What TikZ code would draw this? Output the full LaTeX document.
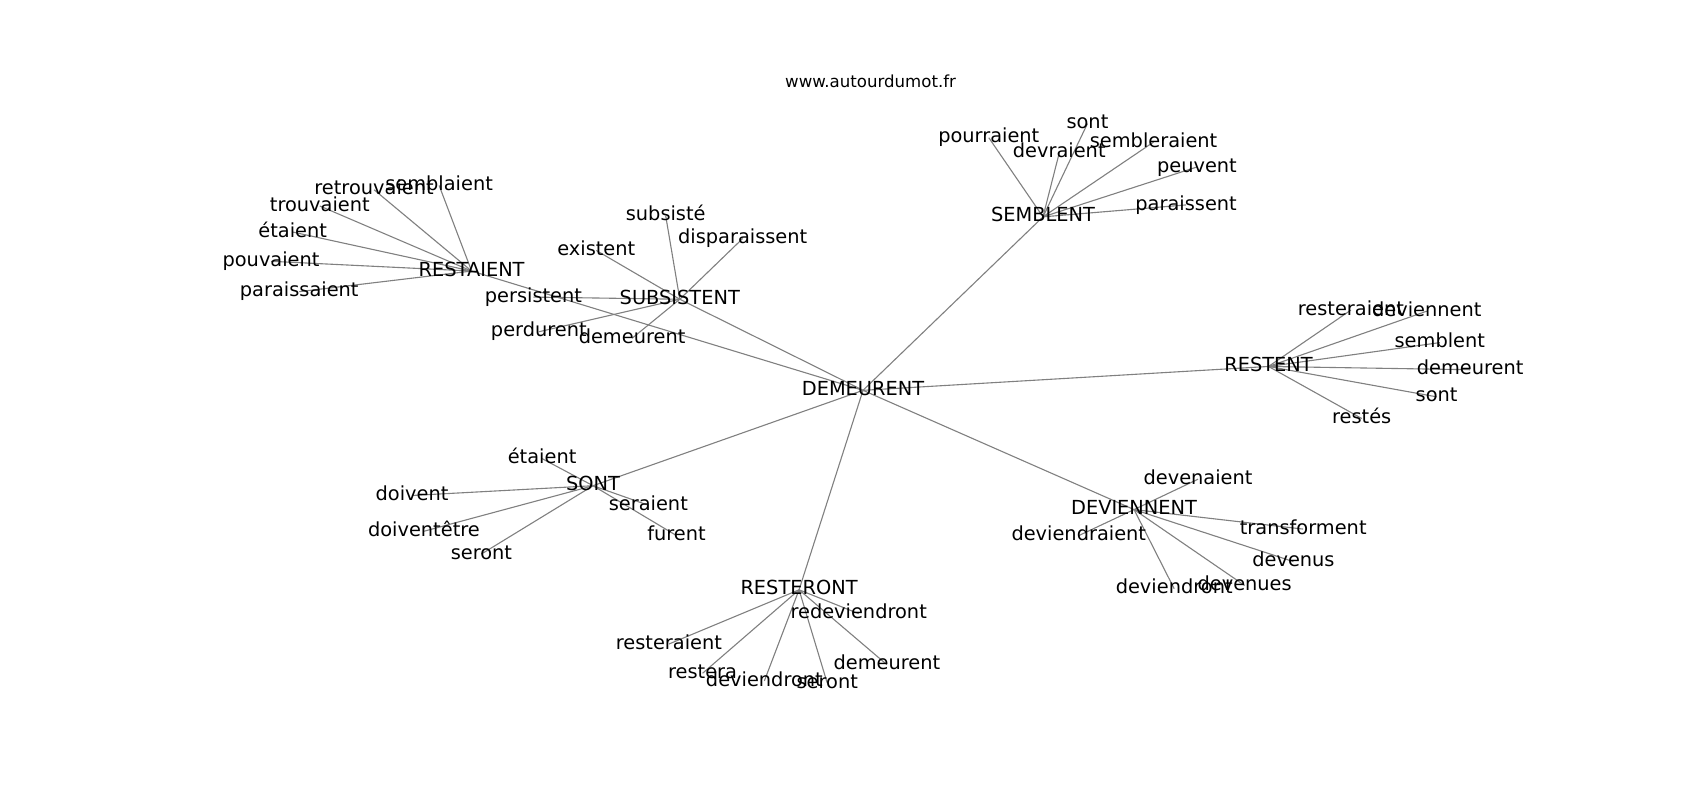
\documentclass[tikz,border=0pt]{standalone}
\usepackage{fontspec}
\setmainfont{DejaVu Sans}
\usetikzlibrary{backgrounds}
\tikzset{%
    word/.style={inner sep=0pt, text height=0.74em, text depth=0pt, font=\fontsize{14}{16}\selectfont},
    edge/.style={draw=black!50, line width=0.8pt}
}
\begin{document}
\begin{tikzpicture}[x=0.2754mm, y=-0.2754mm]
    \useasboundingbox (0,0) rectangle (1568,738);

    \node[inner sep=0pt, text height=0.74em, text depth=0pt, font=\fontsize{12}{14}\selectfont] (title) at (803,76) {www.autourdumot.fr};

    % centre
    \node[word] (dem) at (796,360) {DEMEURENT};

    % restaient
    \node[word] (rai) at (435,250) {RESTAIENT};
    \node[word] (rai1) at (405,171) {semblaient};
    \node[word] (rai2) at (345,175) {retrouvaient};
    \node[word] (rai3) at (295,190) {trouvaient};
    \node[word] (rai4) at (270,214) {étaient};
    \node[word] (rai5) at (250,241) {pouvaient};
    \node[word] (rai6) at (276,269) {paraissaient};

    % subsistent
    \node[word] (sub) at (627,276) {SUBSISTENT};
    \node[word] (sub1) at (614,199) {subsisté};
    \node[word] (sub2) at (685,220) {disparaissent};
    \node[word] (sub3) at (550,231) {existent};
    \node[word] (sub4) at (492,274) {persistent};
    \node[word] (sub5) at (497,306) {perdurent};
    \node[word] (sub6) at (583,312) {demeurent};

    % semblent
    \node[word] (sem) at (962,200) {SEMBLENT};
    \node[word] (sem1) at (912,127) {pourraient};
    \node[word] (sem2) at (1003,114) {sont};
    \node[word] (sem3) at (977,141) {devraient};
    \node[word] (sem4) at (1064,131) {sembleraient};
    \node[word] (sem5) at (1104,154) {peuvent};
    \node[word] (sem6) at (1094,189) {paraissent};

    % restent
    \node[word] (ren) at (1170,338) {RESTENT};
    \node[word] (ren1) at (1246,286) {resteraient};
    \node[word] (ren2) at (1316,287) {deviennent};
    \node[word] (ren3) at (1328,316) {semblent};
    \node[word] (ren4) at (1356,341) {demeurent};
    \node[word] (ren5) at (1325,366) {sont};
    \node[word] (ren6) at (1256,386) {restés};

    % sont
    \node[word] (son) at (547,448) {SONT};
    \node[word] (son1) at (500,423) {étaient};
    \node[word] (son2) at (380,457) {doivent};
    \node[word] (son3) at (391,490) {doiventêtre};
    \node[word] (son4) at (444,511) {seront};
    \node[word] (son5) at (598,466) {seraient};
    \node[word] (son6) at (624,494) {furent};

    % deviennent
    \node[word] (dev) at (1046,470) {DEVIENNENT};
    \node[word] (dev1) at (1105,442) {devenaient};
    \node[word] (dev2) at (995,494) {deviendraient};
    \node[word] (dev3) at (1202,488) {transforment};
    \node[word] (dev4) at (1193,518) {devenus};
    \node[word] (dev5) at (1148,540) {devenues};
    \node[word] (dev6) at (1083,543) {deviendront};

    % resteront
    \node[word] (ron) at (737,544) {RESTERONT};
    \node[word] (ron1) at (792,566) {redeviendront};
    \node[word] (ron2) at (617,594) {resteraient};
    \node[word] (ron3) at (648,621) {restera};
    \node[word] (ron4) at (705,628) {deviendront};
    \node[word] (ron5) at (763,630) {seront};
    \node[word] (ron6) at (818,613) {demeurent};

    \begin{scope}[on background layer]
        \foreach \hub in {rai,sub,sem,ren,son,dev,ron}{
            \draw[edge] (dem.center) -- (\hub.center);
            \foreach \i in {1,...,6}
                \draw[edge] (\hub.center) -- (\hub\i.center);
        }
    \end{scope}
\end{tikzpicture}
\end{document}
